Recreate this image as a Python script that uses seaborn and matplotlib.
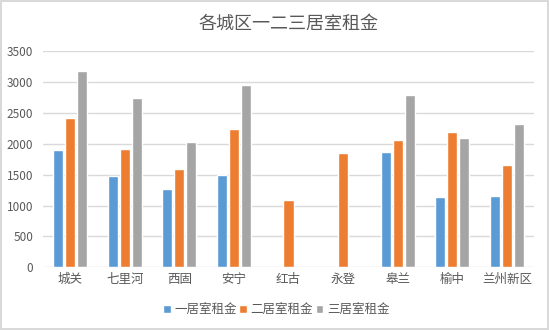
import matplotlib
matplotlib.use("Agg")
import matplotlib.pyplot as plt
import seaborn as sns
import pandas as pd
import numpy as np

districts = ["城关", "七里河", "西固", "安宁", "红古", "永登", "皋兰", "榆中", "兰州新区"]
series_names = ["一居室租金", "二居室租金", "三居室租金"]
rent_1br = [1900, 1477, 1267, 1494, np.nan, np.nan, 1866, 1138, 1154]
rent_2br = [2416, 1914, 1591, 2238, 1089, 1849, 2060, 2189, 1655]
rent_3br = [3176, 2739, 2027, 2950, np.nan, np.nan, 2788, 2092, 2319]
y_ticks = [0, 500, 1000, 1500, 2000, 2500, 3000, 3500]

palette = ["#5B9BD5", "#ED7D31", "#A5A5A5"]
text_color = "#595959"
grid_color = "#D9D9D9"

df = pd.DataFrame({
    "区": districts * 3,
    "类型": [series_names[0]] * 9 + [series_names[1]] * 9 + [series_names[2]] * 9,
    "租金": rent_1br + rent_2br + rent_3br,
})

sns.set_theme(style="white")
plt.rcParams["font.family"] = ["Noto Sans CJK SC", "DejaVu Sans"]

fig = plt.figure(figsize=(5.49, 3.30), dpi=100)
fig.patch.set_facecolor("white")
fig.patch.set_edgecolor(grid_color)
fig.patch.set_linewidth(1.5)
ax = fig.add_axes([0.078, 0.19, 0.895, 0.655])

sns.barplot(data=df, x="区", y="租金", hue="类型", hue_order=series_names,
            palette=palette, width=0.66, gap=0.15, ax=ax, saturation=1,
            legend=True)

ax.set_ylim(0, 3500)
ax.set_yticks(y_ticks)
ax.set_yticklabels([str(v) for v in y_ticks], color=text_color, fontsize=8.5)
ax.set_xlim(-0.5, len(districts) - 0.5)
ax.tick_params(axis="x", colors=text_color, labelsize=9, length=0, pad=4)
ax.tick_params(axis="y", length=0, pad=7)
for lab in ax.get_xticklabels():
    lab.set_color(text_color)
ax.set_xlabel("")
ax.set_ylabel("")
ax.yaxis.grid(True, color=grid_color, linewidth=1)
ax.set_axisbelow(True)
for s in ax.spines.values():
    s.set_visible(False)

ax.set_title("各城区一二三居室租金", color=text_color, fontsize=13, pad=16)

handles, labels = ax.get_legend_handles_labels()
ax.legend(handles, labels, loc="upper center", bbox_to_anchor=(0.475, -0.115),
          ncol=3, frameon=False, fontsize=9, handlelength=0.6, handleheight=0.6,
          handletextpad=0.3, columnspacing=0.2, labelcolor=text_color)

fig.savefig("out.png", dpi=100)
